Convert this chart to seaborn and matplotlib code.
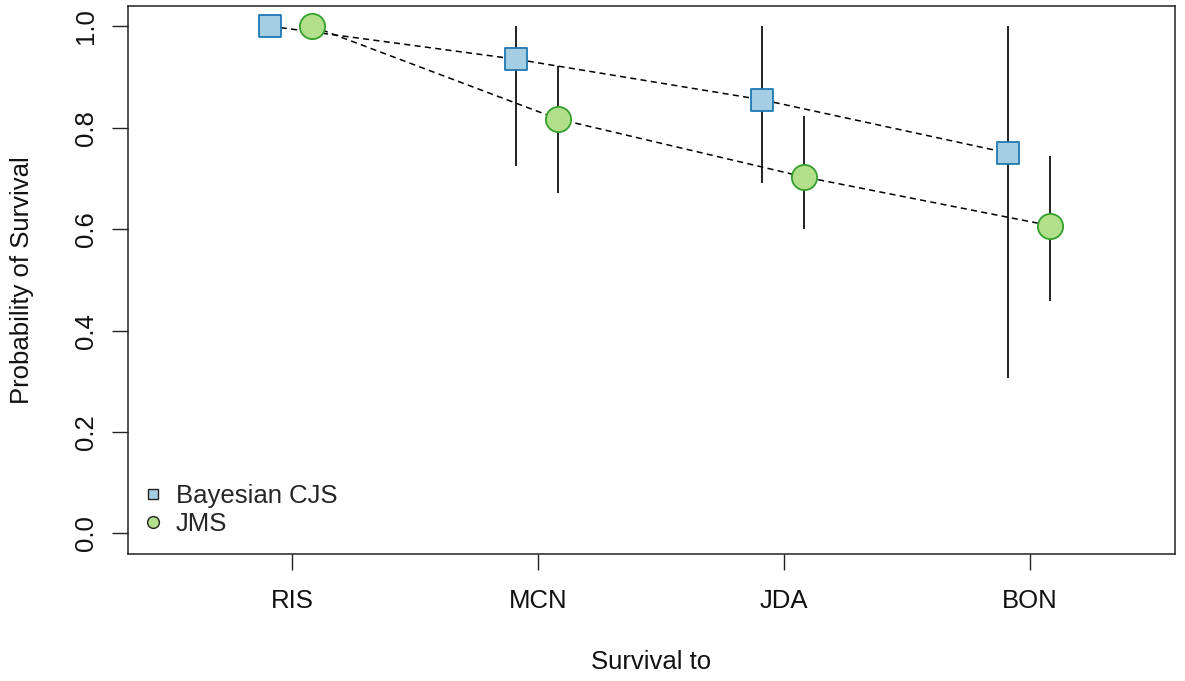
import numpy as np
import pandas as pd
import matplotlib
matplotlib.use("Agg")
import matplotlib.pyplot as plt
import seaborn as sns
from matplotlib.lines import Line2D

sites = ["RIS", "MCN", "JDA", "BON"]
models = ["Bayesian CJS", "JMS"]
cjs_est = [1.0, 0.935, 0.855, 0.750]
cjs_lo = [np.nan, 0.725, 0.690, 0.306]
cjs_hi = [np.nan, 1.0, 1.0, 1.0]
jms_est = [1.0, 0.817, 0.703, 0.607]
jms_lo = [np.nan, 0.672, 0.601, 0.459]
jms_hi = [np.nan, 0.921, 0.823, 0.744]

offsets = {"Bayesian CJS": -0.088, "JMS": 0.082}
rows = []
for m, est, lo, hi in [("Bayesian CJS", cjs_est, cjs_lo, cjs_hi), ("JMS", jms_est, jms_lo, jms_hi)]:
    for i, s in enumerate(sites):
        rows.append(dict(model=m, site=s, x=i + 1 + offsets[m], est=est[i], lo=lo[i], hi=hi[i]))
df = pd.DataFrame(rows)

sns.set_style("white")
plt.rcParams["font.family"] = ["Liberation Sans", "DejaVu Sans"]
FS = 18.5

fig = plt.figure(figsize=(11.85, 6.81), dpi=100)
W, H = 1185, 681
L, R, T, B = 128, 1175, 6, 553.7
ax = fig.add_axes([L / W, (H - B) / H, (R - L) / W, (B - T) / H])

# dashed connecting lines
for m in models:
    sub = df[df.model == m]
    sns.lineplot(data=sub, x="x", y="est", ax=ax, color="black", lw=1.1,
                 linestyle=(0, (4, 2.8)), sort=False, estimator=None, zorder=2)

# error bars
eb = df.dropna()
ax.vlines(eb["x"], eb["lo"], eb["hi"], color="#222222", lw=1.4, zorder=1)

styles = {
    "Bayesian CJS": dict(marker="s", s=265, color="#A6CEE3", edgecolor="#1F78B4"),
    "JMS": dict(marker="o", s=330, color="#B2DF8A", edgecolor="#33A02C"),
}
for m in models:
    sub = df[df.model == m]
    st = styles[m]
    sns.scatterplot(data=sub, x="x", y="est", ax=ax, marker=st["marker"], s=st["s"],
                    color=st["color"], edgecolor=st["edgecolor"], linewidth=1.3, zorder=3)

ax.set_xlim(0.333, 4.59)
ax.set_ylim(-0.04, 1.04)
ax.set_xticks(range(1, len(sites) + 1))
ax.set_xticklabels(sites)
ax.set_yticks([0, 0.2, 0.4, 0.6, 0.8, 1.0])
ax.set_yticklabels(["0.0", "0.2", "0.4", "0.6", "0.8", "1.0"], rotation=90, va="center")
ax.tick_params(axis="both", direction="out", length=11.5, width=1.0, color="#222222",
               labelsize=FS, labelcolor="#111111", left=True, bottom=True)
ax.tick_params(axis="x", pad=14)
ax.tick_params(axis="y", pad=10)
for sp in ax.spines.values():
    sp.set_visible(True)
    sp.set_color("#222222")
    sp.set_linewidth(1.1)

ax.set_xlabel("Survival to", fontsize=FS, color="#111111")
ax.set_ylabel("Probability of Survival", fontsize=FS, color="#111111")
ax.xaxis.set_label_coords(0.5, -(650 - B) / (B - T), transform=ax.transAxes)
ax.yaxis.set_label_coords(-(L - 34) / (R - L), 0.5, transform=ax.transAxes)

handles = [
    Line2D([], [], marker="s", linestyle="none", markersize=7.5,
           markerfacecolor="#A6CEE3", markeredgecolor="#222222", markeredgewidth=1.0),
    Line2D([], [], marker="o", linestyle="none", markersize=8.5,
           markerfacecolor="#B2DF8A", markeredgecolor="#222222", markeredgewidth=1.0),
]
ax.legend(handles, models, loc="lower left", bbox_to_anchor=(0.0115, 0.032),
          frameon=False, fontsize=FS, handlelength=1.0, handletextpad=0.4,
          labelspacing=0.15, borderpad=0, borderaxespad=0)

fig.savefig("out.png", dpi=100)
